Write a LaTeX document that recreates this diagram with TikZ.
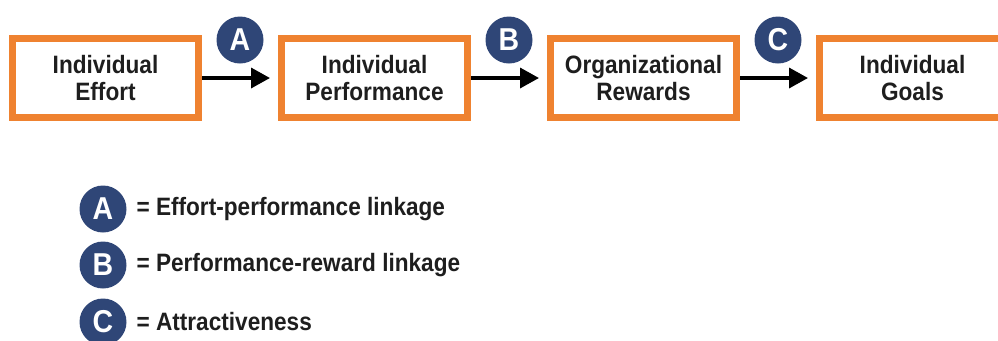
\documentclass[tikz,border=0pt]{standalone}
\usepackage{fontspec}
\setmainfont{Liberation Sans}[FakeStretch=0.9]
\usetikzlibrary{arrows.meta,positioning,calc}
\definecolor{boxorange}{HTML}{EF8230}
\definecolor{badgeblue}{HTML}{2F4677}
\definecolor{inktext}{HTML}{1E1E1E}

\begin{document}
\begin{tikzpicture}[
  stage/.style={draw=boxorange, line width=0.14cm, minimum width=3.72cm,
    minimum height=1.58cm, align=center, text=inktext,
    font=\bfseries\fontsize{14.3}{15.5}\selectfont},
  badge/.style={circle, fill=badgeblue, minimum size=0.94cm, inner sep=0pt,
    text=white, font=\bfseries\fontsize{18}{18}\selectfont},
  link/.style={line width=0.07cm, -{Triangle[length=0.38cm,width=0.4cm]},
    shorten >=0.16cm},
  keytext/.style={text=inktext, font=\bfseries\fontsize{14.3}{15.5}\selectfont}
]
\useasboundingbox (0,0) rectangle (19.96,-6.8);
\clip (0,0) rectangle (19.96,-6.8);

% chain of stages
\node[stage] (effort) at (2.11,-1.56) {Individual\\Effort};
\node[stage, right=1.52cm of effort] (perf) {Individual\\Performance};
\node[stage, right=1.52cm of perf] (rewards) {Organizational\\Rewards};
\node[stage, right=1.52cm of rewards] (goals) {Individual\\Goals};

\draw[link] (effort) -- (perf);
\draw[link] (perf) -- (rewards);
\draw[link] (rewards) -- (goals);

\node[badge] (lnkA) at ($(effort.east)!0.5!(perf.west)+(0,0.76)$) {A};
\node[badge] (lnkB) at ($(perf.east)!0.5!(rewards.west)+(0,0.76)$) {B};
\node[badge] (lnkC) at ($(rewards.east)!0.5!(goals.west)+(0,0.76)$) {C};

% key
\node[badge] (keyA) at (2.06,-4.18) {A};
\node[badge] (keyB) at (2.06,-5.30) {B};
\node[badge] (keyC) at (2.06,-6.44) {C};
\node[keytext, right=0.07cm of keyA] (txtA) {= Effort-performance linkage};
\node[keytext, right=0.07cm of keyB] (txtB) {= Performance-reward linkage};
\node[keytext, right=0.07cm of keyC] (txtC) {= Attractiveness};
\end{tikzpicture}
\end{document}
